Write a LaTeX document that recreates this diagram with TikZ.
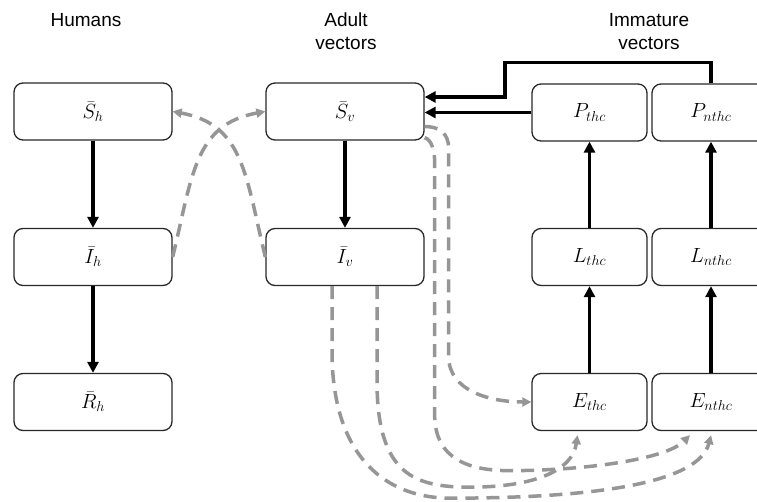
\RequirePackage{fix-cm}
\documentclass[tikz,border=0pt]{standalone}
\usepackage{fontspec}
\setmainfont{Liberation Sans}
\usetikzlibrary{arrows.meta,calc}
\definecolor{gryc}{RGB}{150,150,150}
\definecolor{boxc}{RGB}{40,40,40}
\begin{document}
\begin{tikzpicture}[x=1pt,y=-1pt,
  box/.style={draw=boxc,line width=1.3pt,rounded corners=9pt,minimum width=158pt,minimum height=57pt,inner sep=0pt,font=\fontsize{20.5}{24}\selectfont},
  sbox/.style={box,minimum width=115pt},
  wbox/.style={box,minimum width=118pt},
  title/.style={align=center,font=\fontsize{19}{23}\selectfont},
  blk/.style={line width=3.3pt,-{Triangle[length=11pt,width=11pt]}},
  gry/.style={draw=gryc,line width=3.5pt,dash pattern=on 13pt off 8pt,-{Triangle[length=9pt,width=9pt,fill=gryc]}}]
\useasboundingbox (0,0) rectangle (757,501);
\clip (0,0) rectangle (757,501);

% titles
\node[title] (tH) at (86,20) {Humans};
\node[title] (tA) at (346,31.5) {Adult\\vectors};
\node[title] (tI) at (649,32) {Immature\\vectors};

% boxes
\node[box] (Sh) at (93,111.5) {$\bar{S}_h$};
\node[box] (Ih) at (93,257) {$\bar{I}_h$};
\node[box] (Rh) at (93,402) {$\bar{R}_h$};
\node[box] (Sv) at (345,111.5) {$\bar{S}_v$};
\node[box] (Iv) at (345,257) {$\bar{I}_v$};
\node[sbox] (Pthc) at (589.5,112.5) {$P_{thc}$};
\node[wbox] (Pnthc) at (711,112.5) {$P_{nthc}$};
\node[sbox] (Lthc) at (589.5,257) {$L_{thc}$};
\node[wbox] (Lnthc) at (711,257) {$L_{nthc}$};
\node[sbox] (Ethc) at (589.5,402) {$E_{thc}$};
\node[wbox] (Enthc) at (711,402) {$E_{nthc}$};

% black arrows
\draw[blk] (Sh) -- (Ih);
\draw[blk] (Ih) -- (Rh);
\draw[blk] (Sv) -- (Iv);
\draw[blk] (Ethc) -- (Lthc);
\draw[blk] (Lthc) -- (Pthc);
\draw[blk] (Enthc) -- (Lnthc);
\draw[blk] (Lnthc) -- (Pnthc);
\draw[blk] (Pthc.west) -- (Pthc.west -| Sv.east);
\coordinate (jog) at (505,97);
\draw[blk] (Pnthc.north) -- ++(0,-21) -| (jog) -- (jog -| Sv.east);

% grey dashed arrows
\draw[gry] (Ih.east) .. controls +(20,-82) and +(-71,13) .. (Sv.west);
\draw[gry] (Iv.west) .. controls +(-20,-82) and +(71,13) .. (Sh.east);
\draw[gry] ($(Sv.east)+(0,15)$) .. controls +(15,0) and +(0,-15) .. ++(24,22)
  -- ++(0,208) .. controls +(0,35) and +(-40,0) .. (Ethc.west);
\draw[gry] ($(Sv.south east)+(0,-3)$) .. controls +(7,2) and +(0,-12) .. ++(10,25)
  -- ++(0,252) .. controls +(0,45) and +(-40,0) .. ++(75,56)
  .. controls +(70,0) and +(-25,25) .. ($(Enthc.south)+(-21,4)$);
\draw[gry] ($(Iv.south)+(32,0)$) -- ++(0,95) .. controls +(0,94) and +(-55,0) .. ++(93,106)
  .. controls +(65,0) and +(-5,35) .. ($(Ethc.south)+(-12,4)$);
\draw[gry] ($(Iv.south)+(-13,0)$) -- ++(0,65) .. controls +(0,110) and +(-60,0) .. ++(118,147)
  .. controls +(150,0) and +(-12,47) .. ($(Enthc.south)+(0,4)$);
\end{tikzpicture}
\end{document}
